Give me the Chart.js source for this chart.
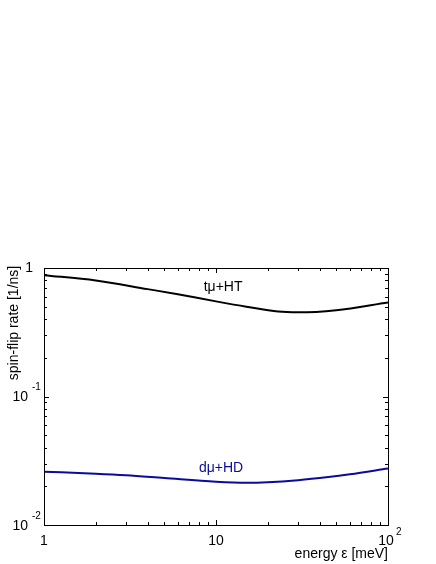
<!DOCTYPE html>
<html>
<head>
<meta charset="utf-8">
<script src="https://cdn.jsdelivr.net/npm/chart.js@4"></script>
<style>
  html, body { margin: 0; padding: 0; background: #fff; }
  #wrap { width: 436px; height: 564px; }
</style>
</head>
<body>
<div id="wrap"><canvas id="chart" width="436" height="564"></canvas></div>
<script>
// energy in meV, spin-flip rate in 1/ns
const energyTmu = [1, 2, 4, 6, 10, 15, 23, 30, 50, 100];
const rateTmu   = [0.88, 0.80, 0.685, 0.625, 0.55, 0.50, 0.458, 0.452, 0.47, 0.54];

const energyDmu = [1, 2, 3, 5, 10, 15, 20, 30, 45, 60, 100];
const rateDmu   = [0.0260, 0.0251, 0.0244, 0.0232, 0.0217, 0.0213, 0.0215, 0.0223, 0.0236, 0.0248, 0.0275];

const xTicks = [1, 10, 100];
const xTickLabels = [['1', ''], ['10', ''], ['10', '2']];
const yTicks = [1, 0.1, 0.01];
const yTickLabels = [['1', ''], ['10', '-1'], ['10', '-2']];

const FONT = '"Liberation Sans", Arial, sans-serif';

function toPoints(xs, ys) {
    return xs.map((x, i) => ({ x: x, y: ys[i] }));
}

// frame, inward ticks, tick labels, axis titles and curve labels
const axesPlugin = {
    id: 'axesPlugin',
    afterDraw(chart) {
        const ctx = chart.ctx;
        const a = chart.chartArea;
        const xs = chart.scales.x, ys = chart.scales.y;
        ctx.save();
        ctx.strokeStyle = '#000';
        ctx.lineWidth = 1;
        ctx.strokeRect(a.left + 0.5, a.top + 0.5, a.right - a.left, a.bottom - a.top);

        ctx.beginPath();
        // x ticks (bottom and top)
        for (let d = 1; d <= 10; d *= 10) {
            for (let m = 1; m <= 9; m++) {
                const v = d * m;
                if (v > 100) continue;
                const px = Math.round(xs.getPixelForValue(v)) + 0.5;
                const len = m === 1 ? 5 : 3;
                ctx.moveTo(px, a.bottom); ctx.lineTo(px, a.bottom - len);
                ctx.moveTo(px, a.top); ctx.lineTo(px, a.top + len);
            }
        }
        // y ticks (left and right)
        for (let d = 0.01; d <= 0.1 + 1e-9; d *= 10) {
            for (let m = 1; m <= 9; m++) {
                const v = d * m;
                const py = Math.round(ys.getPixelForValue(v)) + 0.5;
                const len = m === 1 ? 5 : 3;
                ctx.moveTo(a.left, py); ctx.lineTo(a.left + len, py);
                ctx.moveTo(a.right, py); ctx.lineTo(a.right - len, py);
            }
        }
        ctx.stroke();

        ctx.fillStyle = '#000';
        ctx.textBaseline = 'middle';
        // y tick labels
        yTicks.forEach((v, i) => {
            const py = ys.getPixelForValue(v);
            const [base, sup] = yTickLabels[i];
            ctx.font = '14px ' + FONT;
            if (sup) {
                ctx.textAlign = 'right';
                ctx.fillText(base, a.left - 16, py + 1);
                ctx.font = '10px ' + FONT;
                ctx.textAlign = 'left';
                ctx.fillText(sup, a.left - 12, py - 9);
            } else {
                ctx.textAlign = 'right';
                ctx.fillText(base, a.left - 11, py);
            }
        });
        // x tick labels
        xTicks.forEach((v, i) => {
            const px = xs.getPixelForValue(v);
            const [base, sup] = xTickLabels[i];
            ctx.font = '14px ' + FONT;
            ctx.textAlign = 'center';
            if (sup) {
                ctx.fillText(base, px - 2, a.bottom + 16);
                ctx.font = '10px ' + FONT;
                ctx.textAlign = 'left';
                ctx.fillText(sup, px + 8, a.bottom + 7);
            } else {
                ctx.fillText(base, px, a.bottom + 16);
            }
        });

        // axis titles
        ctx.font = '14px ' + FONT;
        ctx.textAlign = 'right';
        ctx.fillText('energy \u03b5 [meV]', a.right, a.bottom + 29);
        ctx.save();
        ctx.translate(14, 323);
        ctx.rotate(-Math.PI / 2);
        ctx.textAlign = 'center';
        ctx.fillText('spin-flip rate [1/ns]', 0, 0);
        ctx.restore();

        // curve labels
        ctx.textAlign = 'center';
        ctx.fillStyle = '#000';
        ctx.fillText('t\u03bc+HT', xs.getPixelForValue(11), ys.getPixelForValue(0.71));
        ctx.fillStyle = '#0a0a9c';
        ctx.fillText('d\u03bc+HD', xs.getPixelForValue(10.7), ys.getPixelForValue(0.0278));
        ctx.restore();
    }
};

new Chart(document.getElementById('chart'), {
    type: 'line',
    data: {
        datasets: [
            {
                label: 't\u03bc+HT',
                data: toPoints(energyTmu, rateTmu),
                borderColor: '#000',
                borderWidth: 2,
                pointRadius: 0,
                cubicInterpolationMode: 'monotone',
                fill: false
            },
            {
                label: 'd\u03bc+HD',
                data: toPoints(energyDmu, rateDmu),
                borderColor: '#0a0a9c',
                borderWidth: 2,
                pointRadius: 0,
                cubicInterpolationMode: 'monotone',
                fill: false
            }
        ]
    },
    plugins: [axesPlugin],
    options: {
        responsive: false,
        animation: false,
        devicePixelRatio: 1,
        layout: { padding: { left: 44, right: 48, top: 268, bottom: 39 } },
        plugins: { legend: { display: false }, tooltip: { enabled: false } },
        scales: {
            x: { type: 'logarithmic', min: 1, max: 100, display: false },
            y: { type: 'logarithmic', min: 0.01, max: 1, display: false }
        }
    }
});
</script>
</body>
</html>
